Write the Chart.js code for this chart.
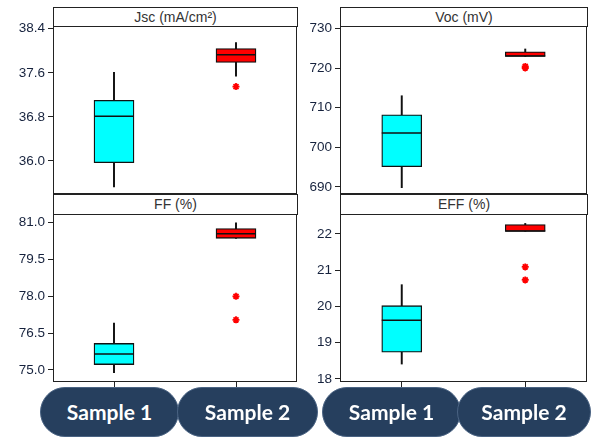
<!DOCTYPE html>
<html><head><meta charset="utf-8">
<script src="https://cdn.jsdelivr.net/npm/chart.js@4/dist/chart.umd.min.js"></script>
<style>
html,body{margin:0;padding:0;background:#fff;}
#wrap{position:relative;width:592px;height:437px;overflow:hidden;background:#fff;}
canvas{position:absolute;}
.hdr{position:absolute;box-sizing:border-box;border:1px solid #222;background:#fff;font:14px "Liberation Sans",Arial,sans-serif;color:#333;text-align:center;}
.pill{position:absolute;box-sizing:border-box;top:387px;height:50px;border-radius:25px;background:#263f5e;color:#fff;font:bold 21px Lato,sans-serif;text-align:center;line-height:47px;border:1px solid #4a6383;}
</style></head>
<body><div id="wrap">
<canvas id="c1" width="300" height="180" style="left:0;top:20px"></canvas>
<canvas id="c2" width="292" height="180" style="left:300px;top:20px"></canvas>
<canvas id="c3" width="300" height="196" style="left:0;top:194px"></canvas>
<canvas id="c4" width="292" height="196" style="left:300px;top:194px"></canvas>
<div class="hdr" style="left:53px;top:7px;width:245px;height:20px;line-height:18px">Jsc (mA/cm²)</div>
<div class="hdr" style="left:340px;top:7px;width:248px;height:20px;line-height:18px">Voc (mV)</div>
<div class="hdr" style="left:53px;top:194px;width:245px;height:21px;line-height:19px">FF (%)</div>
<div class="hdr" style="left:340px;top:194px;width:248px;height:21px;line-height:19px">EFF (%)</div>
<div class="pill" style="left:40px;width:139px">Sample 1</div>
<div class="pill" style="left:177px;width:141px">Sample 2</div>
<div class="pill" style="left:322px;width:139px">Sample 1</div>
<div class="pill" style="left:457px;width:134px">Sample 2</div>
</div>
<script>
const categories = ['Sample 1', 'Sample 2'];
const boxColors = ['#00ffff', '#ff0000'];

// Jsc (mA/cm²)
const jscLow  = [35.53, 37.54];
const jscQ1   = [35.97, 37.79];
const jscMed  = [36.81, 37.93];
const jscQ3   = [37.10, 38.04];
const jscHigh = [37.61, 38.15];
const jscOutlierCat = ['Sample 2'];
const jscOutlierVal = [37.35];
const jscTicks = ['36.0', '36.8', '37.6', '38.4'];

// Voc (mV)
const vocLow  = [689.8, 722.9];
const vocQ1   = [695.1, 722.9];
const vocMed  = [703.6, 723.0];
const vocQ3   = [708.2, 724.1];
const vocHigh = [713.0, 724.8];
const vocOutlierCat = ['Sample 2', 'Sample 2'];
const vocOutlierVal = [720.4, 720.0];
const vocTicks = ['690', '700', '710', '720', '730'];

// FF (%)
const ffLow  = [74.89, 80.36];
const ffQ1   = [75.22, 80.36];
const ffMed  = [75.65, 80.55];
const ffQ3   = [76.08, 80.76];
const ffHigh = [76.91, 80.99];
const ffOutlierCat = ['Sample 2', 'Sample 2'];
const ffOutlierVal = [78.0, 77.04];
const ffTicks = ['75.0', '76.5', '78.0', '79.5', '81.0'];

// EFF (%)
const effLow  = [18.41, 22.07];
const effQ1   = [18.74, 22.07];
const effMed  = [19.62, 22.08];
const effQ3   = [20.02, 22.26];
const effHigh = [20.60, 22.29];
const effOutlierCat = ['Sample 2', 'Sample 2'];
const effOutlierVal = [21.09, 20.73];
const effTicks = ['18', '19', '20', '21', '22'];

Chart.defaults.font.family = '"Liberation Sans", Arial, sans-serif';
Chart.defaults.font.size = 13.5;
Chart.defaults.color = '#16223d';

const boxExtras = {
  id: 'boxExtras',
  afterDatasetsDraw(chart, args, opts) {
    const {ctx, scales: {y}} = chart;
    const meta = chart.getDatasetMeta(1);
    ctx.save();
    ctx.strokeStyle = '#111';
    ctx.lineWidth = 1.5;
    opts.med.forEach((m, i) => {
      const bar = meta.data[i];
      const py = y.getPixelForValue(m);
      ctx.beginPath();
      ctx.moveTo(bar.x - bar.width / 2, py);
      ctx.lineTo(bar.x + bar.width / 2, py);
      ctx.stroke();
    });
    ctx.restore();
  },
  afterDraw(chart) {
    const {ctx, chartArea: a} = chart;
    ctx.save();
    ctx.strokeStyle = '#222';
    ctx.lineWidth = 1;
    ctx.strokeRect(Math.round(a.left) + 0.5, Math.round(a.top) + 0.5,
      Math.round(a.right - a.left) - 1, Math.round(a.bottom - a.top) - 1);
    ctx.restore();
  }
};

function makePanel(id, box, area, d) {
  const [x0, y0, w, h] = box;
  const [L, T, R, B] = area;
  new Chart(document.getElementById(id), {
    type: 'bar',
    data: {
      labels: categories,
      datasets: [
        {
          type: 'scatter',
          data: d.outCat.map((c, i) => ({x: c, y: d.outVal[i]})),
          pointStyle: 'star', pointRadius: 3.5, pointBorderColor: '#ff0000', pointBorderWidth: 1.8,
          pointBackgroundColor: '#ff0000', borderColor: '#ff0000', order: 0
        },
        {
          data: categories.map((c, i) => [d.q1[i], d.q3[i]]),
          backgroundColor: boxColors, borderColor: '#111', borderWidth: 1.3,
          borderSkipped: false, barThickness: 40, grouped: false, order: 1
        },
        {
          data: categories.map((c, i) => [d.low[i], d.high[i]]),
          backgroundColor: '#111', borderWidth: 0,
          barThickness: 1.3, grouped: false, order: 2
        }
      ]
    },
    options: {
      responsive: false, animation: false,
      layout: {autoPadding: false, padding: {left: 0, top: T - y0, right: x0 + w - R, bottom: 0}},
      plugins: {legend: {display: false}, tooltip: {enabled: false}, boxExtras: {med: d.med}},
      scales: {
        x: {
          offset: true,
          grid: {offset: false, drawOnChartArea: false, drawTicks: d.xTicks, tickLength: 5, color: '#222'},
          border: {display: false},
          ticks: {display: false},
          afterFit: s => { s.height = y0 + h - B; s.paddingLeft = 0; s.paddingRight = 0; }
        },
        y: {
          min: d.min, max: d.max,
          grid: {drawOnChartArea: false, tickLength: 5, color: '#222'},
          border: {display: false},
          ticks: {padding: 3, callback: (v, i) => d.ticks[i]},
          afterBuildTicks: s => { s.ticks = d.ticks.map(t => ({value: Number(t)})); },
          afterFit: s => { s.width = L - x0; s.paddingTop = 0; s.paddingBottom = 0; }
        }
      }
    },
    plugins: [boxExtras]
  });
}

makePanel('c1', [0, 20, 300, 180], [53, 26, 297, 194],
  {low: jscLow, q1: jscQ1, med: jscMed, q3: jscQ3, high: jscHigh, outCat: jscOutlierCat, outVal: jscOutlierVal,
   ticks: jscTicks, min: 35.40, max: 38.45, xTicks: false});
makePanel('c2', [300, 20, 292, 180], [340, 26, 587, 194],
  {low: vocLow, q1: vocQ1, med: vocMed, q3: vocQ3, high: vocHigh, outCat: vocOutlierCat, outVal: vocOutlierVal,
   ticks: vocTicks, min: 688.2, max: 730.6, xTicks: false});
makePanel('c3', [0, 194, 300, 196], [53, 214, 297, 382],
  {low: ffLow, q1: ffQ1, med: ffMed, q3: ffQ3, high: ffHigh, outCat: ffOutlierCat, outVal: ffOutlierVal,
   ticks: ffTicks, min: 74.51, max: 81.35, xTicks: true});
makePanel('c4', [300, 194, 292, 196], [340, 214, 587, 382],
  {low: effLow, q1: effQ1, med: effMed, q3: effQ3, high: effHigh, outCat: effOutlierCat, outVal: effOutlierVal,
   ticks: effTicks, min: 17.915, max: 22.55, xTicks: true});
</script>
</body></html>
